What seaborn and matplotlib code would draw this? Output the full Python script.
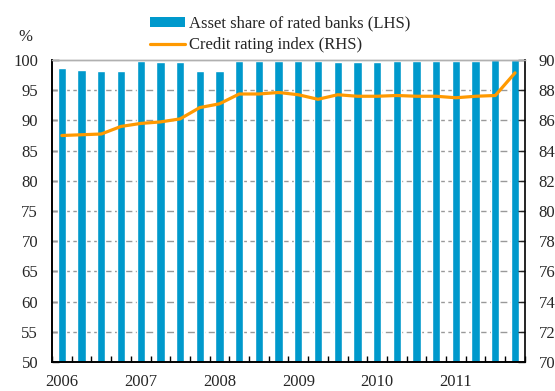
import numpy as np
import pandas as pd
import matplotlib
matplotlib.use("Agg")
import matplotlib.pyplot as plt
import seaborn as sns
from matplotlib.patches import Patch
from matplotlib.lines import Line2D
from matplotlib.ticker import FixedLocator

sns.set_style("white")
plt.rcParams["font.family"] = ["Liberation Serif", "DejaVu Serif"]

# Quarterly observations, 2006Q1 - 2011Q4
quarters = [f"{y}Q{q}" for y in range(2006, 2012) for q in range(1, 5)]
asset_share = [98.7, 98.4, 98.2, 98.2, 99.9, 99.7, 99.7, 98.2,
               98.2, 99.9, 99.9, 99.9, 99.9, 99.9, 99.6, 99.6,
               99.7, 99.8, 99.9, 99.9, 99.9, 99.9, 100.0, 100.0]
rating_index = [85.0, 85.05, 85.1, 85.6, 85.8, 85.9, 86.1, 86.85,
                87.1, 87.75, 87.75, 87.85, 87.7, 87.4, 87.7, 87.6,
                87.6, 87.65, 87.6, 87.6, 87.5, 87.6, 87.65, 89.15]
year_labels = ["2006", "2007", "2008", "2009", "2010", "2011"]

df = pd.DataFrame({"quarter": quarters,
                   "share": asset_share,
                   "index": rating_index})
df["pos"] = np.arange(len(df))

bar_color = "#0099CC"
line_color = "#FF9900"
fs = 12

fig = plt.figure(figsize=(5.55, 3.91), dpi=100)
ax = fig.add_axes([0.0937, 0.0742, 0.852, 0.7723])

sns.barplot(data=df, x="quarter", y="share", color=bar_color,
            width=0.42, saturation=1, ax=ax, zorder=2)
ax.set_ylim(50, 100)
ax.set_xlim(-0.5, len(df) - 0.5)
ax.set_yticks(np.arange(50, 101, 5))
ax.set_xlabel("")
ax.set_ylabel("")

# dashed horizontal grid for the left scale
for v in np.arange(55, 100, 5):
    ax.axhline(v, color="#999999", lw=1.0, ls=(0, (5, 2.5)), zorder=1)

ax2 = ax.twinx()
sns.lineplot(data=df, x="pos", y="index", color=line_color, lw=2.3,
             ax=ax2, zorder=3)
ax2.set_ylim(70, 90)
ax2.set_yticks(np.arange(70, 91, 2))
ax2.set_ylabel("")
ax2.set_xlabel("")
ax2.set_xlim(-0.5, len(df) - 0.5)

# year labels under the first quarter of each year
ax.set_xticks(np.arange(0, len(df), 4))
ax.set_xticklabels(year_labels)
ax.tick_params(axis="x", which="major", length=0, pad=9, labelsize=fs)
ax.xaxis.set_minor_locator(FixedLocator(np.arange(-0.5, len(df), 1)))
ax.tick_params(axis="x", which="minor", direction="in", length=4,
               width=1, color="black", bottom=True)
ax.tick_params(axis="y", direction="in", length=5, width=1,
               labelsize=fs, pad=10, left=True)
ax2.tick_params(axis="y", direction="in", length=5, width=1,
                labelsize=fs, pad=10, right=True)
ax2.tick_params(axis="x", bottom=False, labelbottom=False)

for a in (ax, ax2):
    for side in ("left", "right", "bottom"):
        a.spines[side].set_color("black")
        a.spines[side].set_linewidth(1.2)
    a.spines["top"].set_color("#b0b0b0")
    a.spines["top"].set_linewidth(1.0)
ax.spines["right"].set_visible(False)

fig.text(0.045, 0.905, "%", fontsize=fs, ha="center", va="center")

handles = [Patch(facecolor=bar_color, edgecolor="none"),
           Line2D([], [], color=line_color, lw=2.3)]
labels = ["Asset share of rated banks (LHS)", "Credit rating index (RHS)"]
fig.legend(handles, labels, loc="upper left",
           bbox_to_anchor=(0.252, 0.985), frameon=False, fontsize=fs,
           handlelength=2.1, handleheight=0.6, handletextpad=0.25,
           labelspacing=0.32, borderaxespad=0.2)

fig.savefig("out.png", dpi=100)
